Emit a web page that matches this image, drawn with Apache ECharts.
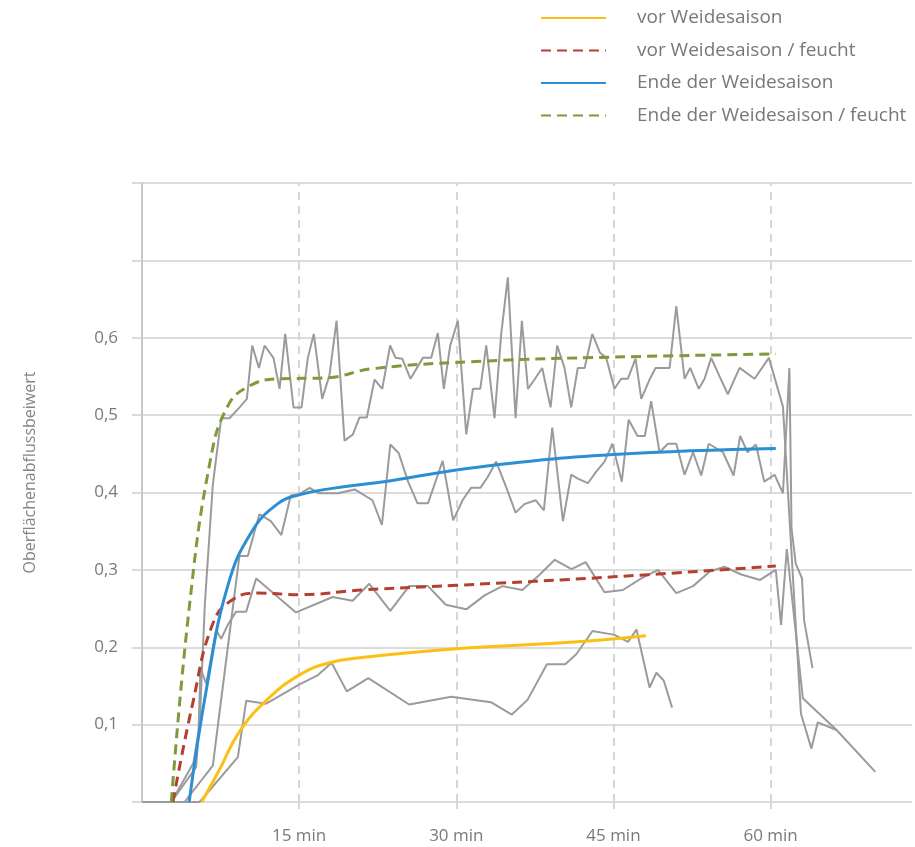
<!DOCTYPE html>
<html>
<head>
<meta charset="utf-8">
<script src="https://cdn.jsdelivr.net/npm/echarts@6/dist/echarts.min.js"></script>
<style>
html,body{margin:0;padding:0;background:#fff;}
#chart{width:915px;height:847px;}
</style>
</head>
<body>
<div id="chart"></div>
<script>
// ---- data: [minutes, Oberflächenabflussbeiwert] ----
var xTicks = [15, 30, 45, 60];
var yLabelValues = [0.1, 0.2, 0.3, 0.4, 0.5, 0.6];

var fitNames = ['vor Weidesaison', 'vor Weidesaison / feucht', 'Ende der Weidesaison', 'Ende der Weidesaison / feucht'];

var fitVor = [[5.7,0],[7.4,0.042],[9.3,0.091],[11.85,0.131],[15,0.164],[17.9,0.180],[21.2,0.187],[30,0.198],[40.5,0.206],[48.1,0.215]];
var fitVorFeucht = [[2.95,0],[4.8,0.125],[6.8,0.232],[8.7,0.262],[11,0.27],[15,0.268],[21,0.274],[30,0.28],[45,0.291],[60.5,0.305]];
var fitEnde = [[4.5,0],[6.2,0.15],[8.2,0.28],[10.5,0.35],[13,0.386],[15,0.397],[18,0.405],[23.6,0.415],[32.2,0.433],[45,0.449],[60.5,0.457]];
var fitEndeFeucht = [[2.8,0],[4.5,0.25],[6.5,0.44],[8.2,0.512],[10.3,0.538],[13,0.547],[17.5,0.548],[22,0.56],[33,0.570],[45,0.575],[60.5,0.579]];

var rawTop = [[0,0],[2.8,0],[4.9,0.05],[5.5,0.1],[6.0,0.256],[6.76,0.41],[7.56,0.496],[8.35,0.496],[9.31,0.51],[10.01,0.521],[10.52,0.59],[11.16,0.561],[11.7,0.59],[12.55,0.574],[13.13,0.534],[13.67,0.605],[14.46,0.51],[15.23,0.51],[15.83,0.574],[16.4,0.605],[17.2,0.521],[17.9,0.552],[18.57,0.622],[19.33,0.467],[20.13,0.475],[20.76,0.497],[21.46,0.497],[22.2,0.546],[22.93,0.534],[23.69,0.59],[24.2,0.574],[24.84,0.573],[25.63,0.547],[26.81,0.574],[27.6,0.574],[28.24,0.606],[28.81,0.534],[29.42,0.59],[30.15,0.622],[30.95,0.475],[31.59,0.534],[32.29,0.534],[32.86,0.59],[33.65,0.496],[34.29,0.605],[34.92,0.678],[35.66,0.496],[36.26,0.622],[36.84,0.534],[37.47,0.546],[38.2,0.561],[39.0,0.51],[39.63,0.59],[40.33,0.561],[40.97,0.51],[41.6,0.561],[42.25,0.561],[42.98,0.605],[43.7,0.581],[44.31,0.574],[45.1,0.534],[45.74,0.547],[46.38,0.547],[47.11,0.573],[47.66,0.521],[48.45,0.546],[49.02,0.561],[49.72,0.561],[50.36,0.561],[51.0,0.641],[51.79,0.547],[52.33,0.561],[53.15,0.534],[53.7,0.547],[54.33,0.574],[55.13,0.55],[55.92,0.527],[57.04,0.561],[58.47,0.547],[59.84,0.574],[61.18,0.511],[62.9,0.114],[63.9,0.069],[64.5,0.103],[66.3,0.093]];
var rawMid = [[0,0],[4.06,0],[6.76,0.047],[8.19,0.2],[9.3,0.318],[10.1,0.318],[11.2,0.372],[12.3,0.363],[13.3,0.345],[14.2,0.396],[15.0,0.398],[16.0,0.406],[16.9,0.399],[18.7,0.399],[20.3,0.404],[22.0,0.39],[22.9,0.358],[23.7,0.462],[24.5,0.451],[25.4,0.414],[26.3,0.386],[27.3,0.386],[28.7,0.441],[29.7,0.364],[30.6,0.39],[31.4,0.406],[32.3,0.406],[33.0,0.42],[33.81,0.44],[34.76,0.407],[35.66,0.374],[36.5,0.385],[37.57,0.39],[38.36,0.377],[39.16,0.484],[40.18,0.363],[40.97,0.423],[41.6,0.418],[42.56,0.412],[43.36,0.427],[44.15,0.44],[44.9,0.463],[45.8,0.414],[46.45,0.494],[47.3,0.473],[48.0,0.473],[48.6,0.518],[49.4,0.452],[50.2,0.463],[51.0,0.463],[51.79,0.423],[52.6,0.452],[53.38,0.422],[54.1,0.463],[55.45,0.452],[56.47,0.422],[57.1,0.473],[57.8,0.452],[58.6,0.462],[59.4,0.414],[60.38,0.423],[61.18,0.399],[61.8,0.561],[62.0,0.354],[62.4,0.308],[63.0,0.289],[63.2,0.235],[64.0,0.173]];
var rawLow = [[0,0],[2.8,0],[5.17,0.045],[5.39,0.088],[5.58,0.173],[6.13,0.153],[7.08,0.222],[7.56,0.211],[8.19,0.229],[8.99,0.246],[9.95,0.246],[10.9,0.289],[14.7,0.245],[18.2,0.265],[20.1,0.26],[21.7,0.282],[23.7,0.247],[25.5,0.279],[27.3,0.279],[29.0,0.255],[30.95,0.249],[32.7,0.267],[34.4,0.279],[36.3,0.274],[37.9,0.293],[39.4,0.313],[41.0,0.301],[42.35,0.31],[44.15,0.271],[45.9,0.274],[47.66,0.289],[49.25,0.3],[51.0,0.27],[52.6,0.279],[54.2,0.298],[55.6,0.304],[57.2,0.294],[59.0,0.287],[60.5,0.3],[61.0,0.229],[61.55,0.327],[63.08,0.134],[66.3,0.093],[70.0,0.039]];
var rawVor = [[0,0],[5.5,0],[9.15,0.058],[9.95,0.131],[11.86,0.127],[15.04,0.152],[16.8,0.164],[18.1,0.18],[19.55,0.143],[21.6,0.16],[25.5,0.126],[29.5,0.136],[33.3,0.129],[35.3,0.113],[36.8,0.132],[38.65,0.178],[40.4,0.178],[41.45,0.191],[43.0,0.221],[45.1,0.216],[46.4,0.207],[47.2,0.223],[48.45,0.148],[49.1,0.167],[49.8,0.157],[50.6,0.122]];

// ---- chart ----
var FONT = 'Open Sans';
var GRID_COLOR = '#d0d0d0';
var RAW_COLOR = '#9b9b9b';
var COLORS = ['#FCC012', '#B5402F', '#2C8ED3', '#7E9B3A'];

function rawSeries(name, data, withMarks) {
  var s = {
    name: name, type: 'line', data: data, showSymbol: false, symbol: 'none',
    lineStyle: { color: RAW_COLOR, width: 2 }, z: 2, silent: true
  };
  if (withMarks) {
    s.markLine = {
      silent: true, symbol: ['none', 'none'], label: { show: false },
      lineStyle: { color: '#d6d6d6', width: 2, type: [8, 6] },
      data: xTicks.map(function (v) { return { xAxis: v }; }),
      z: 1
    };
  }
  return s;
}
function fitSeries(name, data, color, dashed) {
  return {
    name: name, type: 'line', data: data, showSymbol: false, symbol: 'none',
    smooth: 0.45, z: 5,
    itemStyle: { color: color },
    lineStyle: { color: color, width: 3, type: dashed ? [10, 6] : 'solid' }
  };
}

var chart = echarts.init(document.getElementById('chart'), null, { renderer: 'canvas' });
chart.setOption({
  animation: false,
  textStyle: { fontFamily: FONT },
  grid: { left: 142, top: 183, width: 770, bottom: 45, containLabel: false },
  legend: {
    data: fitNames,
    orient: 'vertical', left: 540, top: 8, padding: 0,
    itemWidth: 65, itemHeight: 14, itemGap: 12.5,
    itemStyle: { opacity: 0 },
    textStyle: { fontFamily: FONT, fontSize: 19, color: '#787878', padding: [0, 0, 0, 26], lineHeight: 20 },
    selectedMode: false
  },
  xAxis: {
    type: 'value', min: 0, max: 73.5, interval: 15,
    axisLine: { show: false },
    axisTick: { show: true, customValues: xTicks, length: 7, lineStyle: { color: '#d6d6d6', width: 2 } },
    splitLine: { show: false },
    axisLabel: {
      customValues: xTicks, margin: 26, fontSize: 17, color: '#7a7a7a', fontFamily: FONT,
      formatter: function (v) { return xTicks.indexOf(v) >= 0 ? v + ' min' : ''; }
    }
  },
  yAxis: {
    type: 'value', min: 0, max: 0.8, interval: 0.1,
    name: 'Oberflächenabflussbeiwert', nameLocation: 'middle', nameGap: 104,
    nameTextStyle: { fontFamily: FONT, fontSize: 16, color: '#858585', padding: [0, 0, 0, 40] },
    axisLine: { show: true, lineStyle: { color: '#c8c8c8', width: 2 } },
    axisTick: { show: true, length: 10, lineStyle: { color: GRID_COLOR, width: 1.5 } },
    splitLine: { show: true, lineStyle: { color: GRID_COLOR, width: 1.5 } },
    axisLabel: {
      margin: 24, fontSize: 17, color: '#7a7a7a', fontFamily: FONT,
      formatter: function (v) {
        var r = Math.round(v * 10) / 10;
        return yLabelValues.indexOf(r) >= 0 ? r.toFixed(1).replace('.', ',') : '';
      }
    }
  },
  series: [
    rawSeries('raw1', rawTop, true),
    rawSeries('raw2', rawMid, false),
    rawSeries('raw3', rawLow, false),
    rawSeries('raw4', rawVor, false),
    fitSeries(fitNames[0], fitVor, COLORS[0], false),
    fitSeries(fitNames[1], fitVorFeucht, COLORS[1], true),
    fitSeries(fitNames[2], fitEnde, COLORS[2], false),
    fitSeries(fitNames[3], fitEndeFeucht, COLORS[3], true)
  ]
});
</script>
</body>
</html>
